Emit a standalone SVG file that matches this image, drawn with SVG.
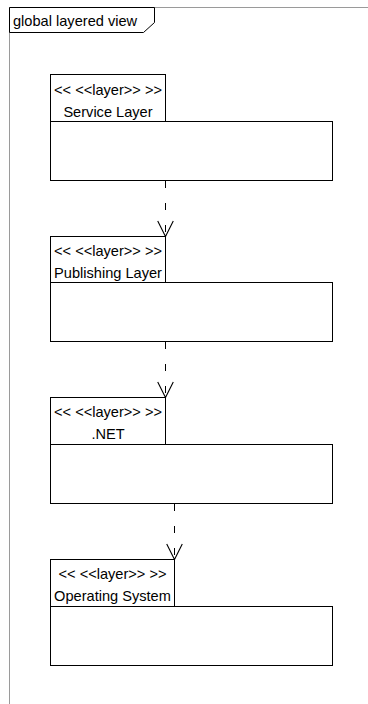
<svg xmlns="http://www.w3.org/2000/svg" width="368" height="704" viewBox="0 0 368 704">
  <style>
    text { font-family: "Liberation Sans", Arial, sans-serif; font-size: 14.6px; fill: #000; }
    .frame { fill: none; stroke: #9a9a9a; stroke-width: 1; }
    .box { fill: #fff; stroke: #000; stroke-width: 1; }
    .dep { fill: none; stroke: #000; stroke-width: 1; stroke-dasharray: 7 15; }
  </style>
  <defs>
    <marker id="open" markerUnits="userSpaceOnUse" markerWidth="20" markerHeight="20" viewBox="-16 -9 18 18" refX="0" refY="0" orient="auto">
      <path d="M-14,-7 L0,0 L-14,7" fill="none" stroke="#000" stroke-width="1" stroke-dasharray="none"/>
    </marker>
  </defs>

  <!-- diagram frame with name tab -->
  <g id="frame">
    <path class="frame" d="M9.5,704 V7.5 H368"/>
    <path class="box" d="M9.5,7.5 H154.5 V22.5 L143.5,32.5 H9.5 Z"/>
    <text x="13" y="26">global layered view</text>
  </g>

  <!-- layers -->
  <g id="service-layer">
    <rect class="box" x="50.5" y="121.5" width="282" height="59"/>
    <rect class="box" x="50.5" y="74.5" width="115" height="47"/>
    <text x="108" y="95" text-anchor="middle">&lt;&lt; &lt;&lt;layer&gt;&gt; &gt;&gt;</text>
    <text x="108" y="117" text-anchor="middle">Service Layer</text>
  </g>

  <g id="publishing-layer">
    <rect class="box" x="50.5" y="282.5" width="282" height="59"/>
    <rect class="box" x="50.5" y="236.5" width="115" height="46"/>
    <text x="108" y="256" text-anchor="middle">&lt;&lt; &lt;&lt;layer&gt;&gt; &gt;&gt;</text>
    <text x="108" y="278" text-anchor="middle">Publishing Layer</text>
  </g>

  <g id="dotnet-layer">
    <rect class="box" x="50.5" y="444.5" width="282" height="59"/>
    <rect class="box" x="50.5" y="397.5" width="115" height="47"/>
    <text x="108" y="417" text-anchor="middle">&lt;&lt; &lt;&lt;layer&gt;&gt; &gt;&gt;</text>
    <text x="108" y="439" text-anchor="middle">.NET</text>
  </g>

  <g id="os-layer">
    <rect class="box" x="50.5" y="606.5" width="282" height="59"/>
    <rect class="box" x="50.5" y="559.5" width="124" height="47"/>
    <text x="112.5" y="579" text-anchor="middle">&lt;&lt; &lt;&lt;layer&gt;&gt; &gt;&gt;</text>
    <text x="112.5" y="601" text-anchor="middle">Operating System</text>
  </g>

  <!-- dependencies between layers -->
  <g id="connectors">
    <path class="dep" d="M165.5,181 V236.5" marker-end="url(#open)"/>
    <path class="dep" d="M165.5,342 V397.5" marker-end="url(#open)"/>
    <path class="dep" d="M174.5,504 V559.5" marker-end="url(#open)"/>
  </g>
</svg>
